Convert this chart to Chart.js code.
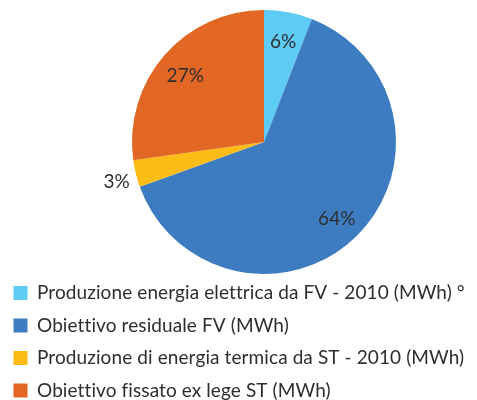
<!DOCTYPE html>
<html lang="it">
<head>
    <meta charset="UTF-8">
    <title>Obiettivi FV / ST</title>
    <script src="https://cdn.jsdelivr.net/npm/chart.js"></script>
    <style>
        html, body {
    margin: 0;
    padding: 0;
    background: #fff;
    overflow: hidden;
}

#chartContainer {
    width: 477px;
    height: 410px;
}
    </style>
</head>
<body>

<div id="chartContainer">
    <canvas id="myChart"></canvas>
</div>

<script>
    // Data (share of total)
    const categories = [
        'Produzione energia elettrica da FV - 2010 (MWh) °',
        'Obiettivo residuale FV (MWh)',
        'Produzione di energia termica da ST - 2010 (MWh)',
        'Obiettivo fissato ex lege ST (MWh)'
    ];
    const shares = [5.9, 63.6, 3.3, 27.2];
    const colors = ['#5DCBF3', '#3D7CC1', '#FBBC16', '#E26624'];

    const fontFamily = 'Lato, "Open Sans", sans-serif';

    // the pie sits a bit right of the page centre, the legend stays left
    const shiftPie = {
        id: 'shiftPie',
        afterLayout(chart) {
            chart.chartArea.left = 51;
            chart.chartArea.width = chart.chartArea.right - chart.chartArea.left;
        },
        beforeDraw(chart) {
            // tiny spacing so Lato doesn't use its "tt" ligature
            chart.ctx.letterSpacing = '0.1px';
        }
    };

    // Percent labels inside the slices (small ones go outside)
    const percentLabels = {
        id: 'percentLabels',
        afterDatasetsDraw(chart) {
            const ctx = chart.ctx;
            const meta = chart.getDatasetMeta(0);
            const values = chart.data.datasets[0].data;
            const total = values.reduce((a, b) => a + b, 0);
            ctx.save();
            ctx.font = '19px ' + fontFamily;
            ctx.fillStyle = '#2e2e2e';
            ctx.textAlign = 'center';
            ctx.textBaseline = 'middle';
            meta.data.forEach((arc, i) => {
                const p = arc.getProps(['x', 'y', 'startAngle', 'endAngle', 'outerRadius'], true);
                const frac = values[i] / total;
                const mid = (p.startAngle + p.endAngle) / 2;
                const r = p.outerRadius * (frac < 0.05 ? 1.15 : 0.79);
                const x = p.x + Math.cos(mid) * r;
                const y = p.y + Math.sin(mid) * r + (frac < 0.05 ? 4 : 2);
                ctx.fillText(Math.round(frac * 100) + '%', x, y);
            });
            ctx.restore();
        }
    };

    const ctx = document.getElementById('myChart').getContext('2d');
    const myChart = new Chart(ctx, {
        type: 'pie',
        data: {
            labels: categories,
            datasets: [{
                data: shares,
                backgroundColor: colors,
                borderWidth: 0,
                radius: 132
            }]
        },
        options: {
            responsive: true,
            maintainAspectRatio: false,
            animation: false,
            layout: {
                padding: { top: 14, left: 0, right: 0, bottom: 0 }
            },
            plugins: {
                legend: {
                    position: 'bottom',
                    align: 'start',
                    labels: {
                        boxWidth: 14,
                        boxHeight: 14,
                        padding: 13.5,
                        color: '#2e2e2e',
                        font: { family: fontFamily, size: 19 }
                    }
                },
                tooltip: { enabled: false }
            }
        },
        plugins: [shiftPie, percentLabels]
    });
</script>

</body>
</html>
